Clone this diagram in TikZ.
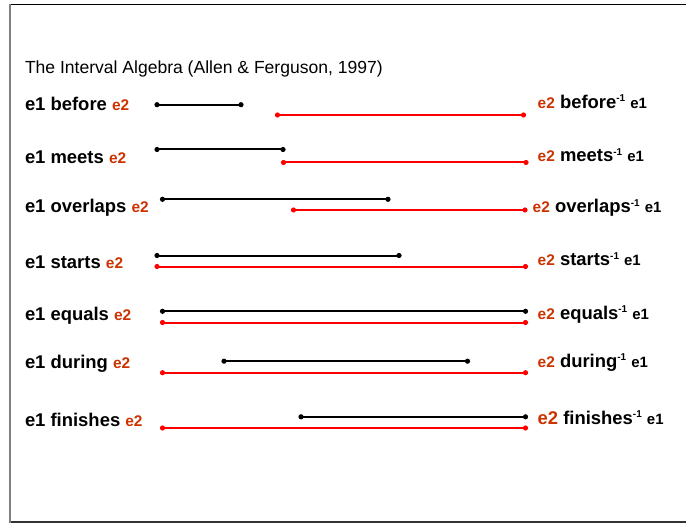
\documentclass[tikz,border=0pt]{standalone}
\usepackage{fontspec}
\setmainfont{Liberation Sans}
\definecolor{etwo}{RGB}{204,51,0}
\definecolor{ired}{RGB}{255,0,0}
\definecolor{fgray}{RGB}{128,128,128}
\newcommand\Etwo{{\color{etwo}\fontsize{15.5}{15.5}\selectfont e2}}
\newcommand\Etwobig{{\color{etwo}\fontsize{18.5}{18.5}\selectfont e2}}
\newcommand\Inv{\raisebox{6.5bp}{\fontsize{10}{10}\selectfont -1}}
\newcommand\Eone{{\fontsize{15}{15}\selectfont e1}}
\newcommand\Ival[5]{%
  \coordinate (#1s) at (#2,#4); \coordinate (#1e) at (#3,#4);
  \draw[#5] (#1s) -- (#1e);
  \fill[#5] (#1s) circle (2.6bp) (#1e) circle (2.6bp);}
\begin{document}
\begin{tikzpicture}[x=1bp,y=-1bp,
  lbl/.style={anchor=base west,inner sep=0,outer sep=0,font=\bfseries\fontsize{18.5}{18.5}\selectfont},
  ttl/.style={anchor=base west,inner sep=0,outer sep=0,font=\fontsize{17.6}{17.6}\selectfont},
  blk/.style={black,line width=2bp},
  rd/.style={ired,line width=2bp}]
\useasboundingbox (0,0) rectangle (686,523);
% frame
\coordinate (ftl) at (10,4.5); \coordinate (ftr) at (690,4.5);
\coordinate (fbl) at (10,521.5); \coordinate (fbr) at (690,521.5);
\draw[black,line width=1.5bp] (ftl) -- (ftr);
\draw[black!80,line width=2bp] (fbl) -- (fbr);
\draw[fgray,line width=2bp] (10,3.8) -- (10,522.5);
% title
\node[ttl] (title) at (25,74) {The Interval Algebra (Allen \& Ferguson, 1997)};
% left labels
\node[lbl] (l1) at (25,111) {e1 before \Etwo};
\node[lbl] (l2) at (25,163.3) {e1 meets \Etwo};
\node[lbl] (l3) at (25,213) {e1 overlaps \Etwo};
\node[lbl] (l4) at (25,269) {e1 starts \Etwo};
\node[lbl] (l5) at (25,320.5) {e1 equals \Etwo};
\node[lbl] (l6) at (25,368) {e1 during \Etwo};
\node[lbl] (l7) at (25,426.7) {e1 finishes \Etwo};
% right labels
\node[lbl] (r1) at (537.7,108.3) {\Etwo{} before\Inv{} \Eone};
\node[lbl] (r2) at (537.7,161.7) {\Etwo{} meets\Inv{} \Eone};
\node[lbl] (r3) at (532.7,213) {\Etwo{} overlaps\Inv{} \Eone};
\node[lbl] (r4) at (537.7,266) {\Etwo{} starts\Inv{} \Eone};
\node[lbl] (r5) at (537.7,319) {\Etwo{} equals\Inv{} \Eone};
\node[lbl] (r6) at (537.7,367.3) {\Etwo{} during\Inv{} \Eone};
\node[lbl] (r7) at (537.7,424) {\Etwobig{} finishes\Inv{} \Eone};
% intervals
\Ival{ba}{157}{241}{104.7}{blk}
\Ival{bb}{277.5}{523.5}{115}{rd}
\Ival{ma}{157}{283}{149.5}{blk}
\Ival{mb}{283.5}{526}{162.5}{rd}
\Ival{oa}{162.5}{388}{199.3}{blk}
\Ival{ob}{293.5}{525}{210}{rd}
\Ival{sa}{157}{399}{255.5}{blk}
\Ival{sb}{157}{525.5}{266.5}{rd}
\Ival{ea}{162.5}{525.5}{311.3}{blk}
\Ival{eb}{162.5}{525.5}{322.5}{rd}
\Ival{da}{224}{467.5}{361.2}{blk}
\Ival{db}{162.5}{525.5}{372.7}{rd}
\Ival{fa}{301}{525.5}{416.8}{blk}
\Ival{fb}{162.5}{525.5}{428}{rd}
\end{tikzpicture}
\end{document}
